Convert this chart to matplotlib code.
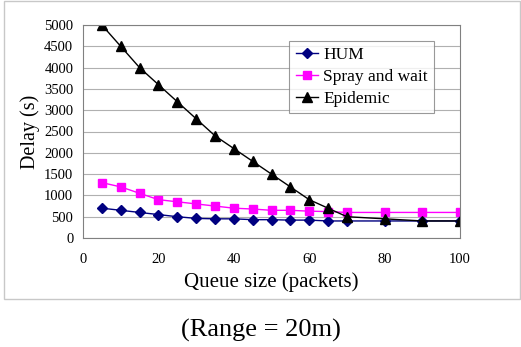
import matplotlib
matplotlib.use("Agg")
import matplotlib.pyplot as plt
from matplotlib.patches import Rectangle

plt.rcParams["font.family"] = ["Liberation Serif", "DejaVu Serif"]

# Data
queue_size = [5, 10, 15, 20, 25, 30, 35, 40, 45, 50, 55, 60, 65, 70, 80, 90, 100]
hum = [700, 650, 600, 550, 500, 460, 450, 450, 430, 430, 420, 420, 400, 400, 400, 400, 400]
spray_wait = [1300, 1200, 1050, 900, 850, 800, 750, 700, 680, 650, 650, 630, 620, 600, 600, 600, 600]
epidemic = [5000, 4500, 4000, 3600, 3200, 2800, 2400, 2100, 1800, 1500, 1200, 900, 700, 500, 450, 400, 400]

W, H = 521, 347
fig = plt.figure(figsize=(W / 100, H / 100), dpi=100)

# outer light-gray frame of the chart area
fig.patches.append(Rectangle((4 / W, 1 - 299 / H), (W - 5) / W, 298 / H,
                             transform=fig.transFigure, fill=False,
                             edgecolor="#c8c8c8", linewidth=1.0))

ax = fig.add_axes([83 / W, 1 - 238 / H, (460 - 83) / W, (238 - 25) / H])

ax.plot(queue_size, hum, color="#000080", marker="D", markersize=5.5,
        linewidth=1.0, label="HUM")
ax.plot(queue_size, spray_wait, color="#ff00ff", marker="s", markersize=6,
        linewidth=1.0, label="Spray and wait")
ax.plot(queue_size, epidemic, color="black", marker="^", markersize=6.5,
        linewidth=1.0, label="Epidemic")

ax.set_xlim(0, 100)
ax.set_ylim(0, 5000)
ax.set_xticks(range(0, 101, 20))
ax.set_yticks(range(0, 5001, 500))
ax.tick_params(labelsize=10.5, length=0)
ax.tick_params(axis="x", pad=11)
ax.tick_params(axis="y", pad=7)
ax.grid(axis="y", color="#b0b0b0", linewidth=0.8)
ax.set_axisbelow(True)
for side in ["left", "bottom", "right", "top"]:
    ax.spines[side].set_color("#808080")
    ax.spines[side].set_linewidth(0.8)

ax.set_xlabel("Queue size (packets)", fontsize=15, labelpad=4)
ax.set_ylabel("Delay (s)", fontsize=14.5, labelpad=3)

leg = ax.legend(loc="upper right", bbox_to_anchor=((434 - 83) / 377, (238 - 41) / 213),
                fontsize=12.5, frameon=True, fancybox=False, borderpad=0.35,
                handlelength=1.3, handletextpad=0.3, labelspacing=0.32,
                borderaxespad=0)
leg.get_frame().set_edgecolor("#808080")
leg.get_frame().set_linewidth(0.8)

fig.text(0.5, 1 - 330 / H, "(Range = 20m)", ha="center", va="center", fontsize=19)

fig.savefig("out.png", dpi=100)
